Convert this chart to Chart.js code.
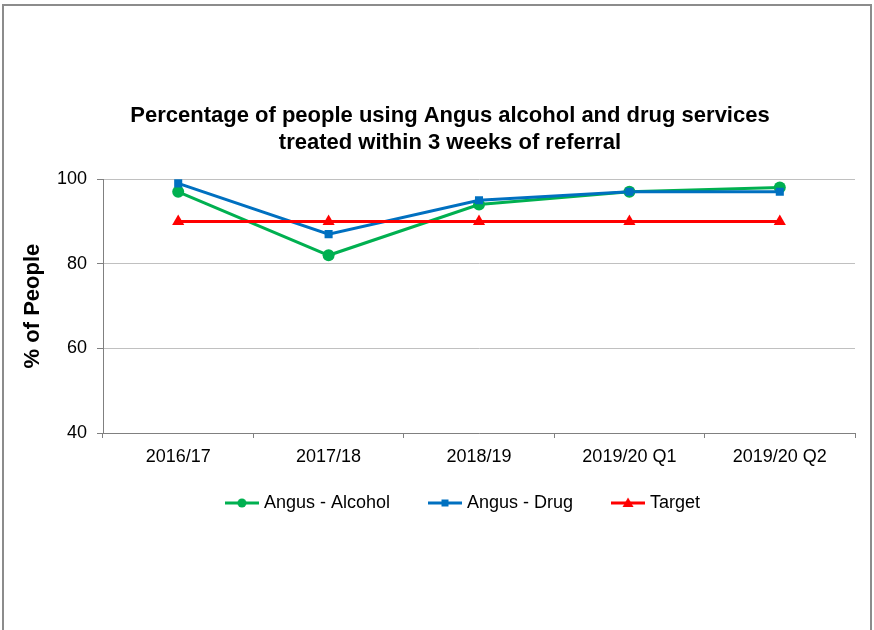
<!DOCTYPE html>
<html>
<head>
<meta charset="utf-8">
<script src="https://cdn.jsdelivr.net/npm/chart.js@4/dist/chart.umd.min.js"></script>
<style>
  body { margin: 0; background: #fff; overflow: hidden; }
  #wrap { position: relative; width: 874px; height: 630px; }
  #frame { position: absolute; left: 2px; top: 4px; width: 866px; height: 700px;
    border: 2px solid #8c8c8c; border-bottom: none; pointer-events: none; }
</style>
</head>
<body>
<div id="wrap">
  <canvas id="myChart" width="874" height="630"></canvas>
  <div id="frame"></div>
</div>
<script>
const periods = ["2016/17", "2017/18", "2018/19", "2019/20 Q1", "2019/20 Q2"];
const alcohol = [97, 82, 94, 97, 98];
const drug = [99, 87, 95, 97, 97];
const target = [90, 90, 90, 90, 90];
const yTicks = [40, 60, 80, 100];

const FONT = "'Liberation Sans', Arial, sans-serif";

// small line + marker swatch for the legend
function swatch(color, style) {
  const c = document.createElement('canvas');
  c.width = 34; c.height = 14;
  const g = c.getContext('2d');
  g.strokeStyle = color; g.fillStyle = color; g.lineWidth = 3;
  g.beginPath(); g.moveTo(0, 7); g.lineTo(34, 7); g.stroke();
  g.beginPath();
  if (style === 'circle') g.arc(17, 7, 4.5, 0, Math.PI * 2);
  else if (style === 'rect') g.rect(13.5, 3.5, 7, 7);
  else { g.moveTo(17, 1.5); g.lineTo(22.5, 11); g.lineTo(11.5, 11); g.closePath(); }
  g.fill();
  return c;
}

const series = [
  {label: "Angus - Alcohol", data: alcohol, color: "#00B050", style: "circle", radius: 6, order: 2},
  {label: "Angus - Drug", data: drug, color: "#0070C0", style: "rect", radius: 5.7, order: 1},
  {label: "Target", data: target, color: "#FF0000", style: "triangle", radius: 7, order: 0}
];

// shift legend / title to where the original sits
const nudge = {
  id: 'nudge',
  afterLayout(chart) {
    const lg = chart.legend;
    lg.left += 37; lg.right += 37;
    lg.top -= 21; lg.bottom -= 21;
    chart.titleBlock.left += 22.5; chart.titleBlock.right += 22.5;
  }
};

const ctx = document.getElementById("myChart");
new Chart(ctx, {
  type: "line",
  data: {
    labels: periods,
    datasets: series.map(s => ({
      label: s.label,
      data: s.data,
      borderColor: s.color,
      backgroundColor: s.color,
      borderWidth: 3,
      tension: 0,
      pointStyle: s.style,
      pointRadius: s.radius,
      pointBorderWidth: 0,
      pointBackgroundColor: s.color,
      order: s.order
    }))
  },
  options: {
    responsive: false,
    animation: false,
    devicePixelRatio: 1,
    layout: {padding: {left: 0, right: 19, top: 0, bottom: 87}},
    plugins: {
      title: {
        display: true,
        text: ["Percentage of people using Angus alcohol and drug services", "treated within 3 weeks of referral"],
        color: "#000",
        font: {family: FONT, size: 22, weight: "bold", lineHeight: 1.23},
        padding: {top: 102.5, bottom: 22.5}
      },
      legend: {
        position: "bottom",
        labels: {
          color: "#000",
          font: {family: FONT, size: 18},
          usePointStyle: true,
          pointStyleWidth: 26,
          padding: 42,
          generateLabels: () => series.map((s, i) => ({
            text: s.label,
            pointStyle: swatch(s.color, s.style),
            fillStyle: s.color,
            strokeStyle: s.color,
            lineWidth: 0,
            fontColor: "#000",
            hidden: false,
            datasetIndex: i
          }))
        }
      },
      tooltip: {enabled: false}
    },
    scales: {
      x: {
        offset: true,
        grid: {display: true, drawOnChartArea: false, drawTicks: true, tickLength: 5, color: "#808080", offset: true},
        border: {color: "#808080", width: 1},
        ticks: {color: "#000", font: {family: FONT, size: 18}, padding: 8, maxRotation: 0},
        afterFit: s => { s.height = 40; }
      },
      y: {
        min: 40,
        max: 100,
        afterBuildTicks: s => { s.ticks = yTicks.map(v => ({value: v})); },
        grid: {color: "#c0c0c0", tickColor: "#808080", tickLength: 6},
        border: {color: "#808080", width: 1},
        ticks: {color: "#000", font: {family: FONT, size: 18}, padding: 10},
        title: {
          display: true,
          text: "% of People",
          color: "#000",
          font: {family: FONT, size: 22, weight: "bold"},
          padding: {top: 19.3, bottom: 0}
        },
        afterFit: s => { s.width = 103; }
      }
    }
  },
  plugins: [nudge]
});
</script>
</body>
</html>
